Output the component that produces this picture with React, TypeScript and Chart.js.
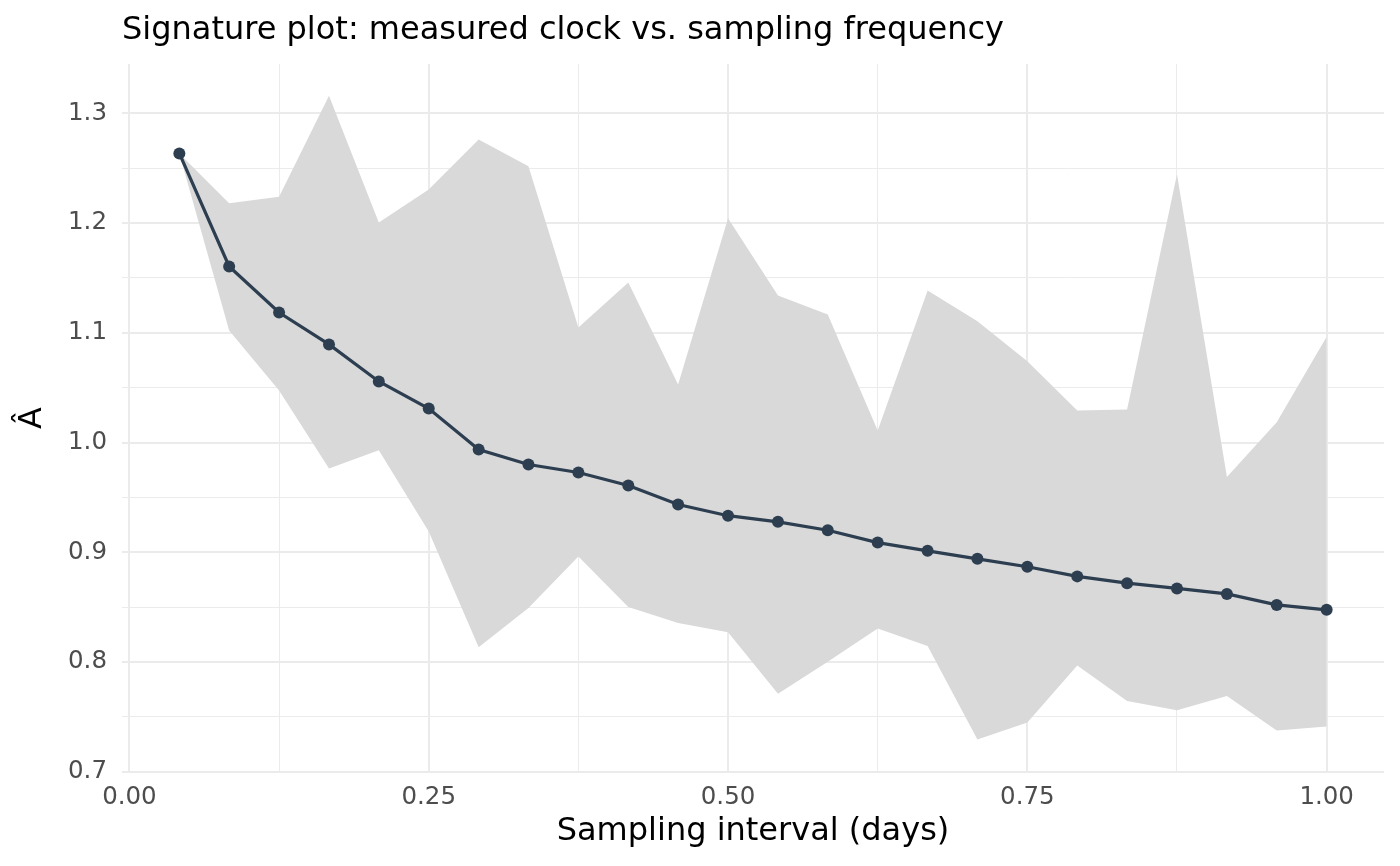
import React, { useEffect, useRef } from 'react';
import { Chart, registerables } from 'chart.js';
Chart.register(...registerables);

// sampling interval in days (1 h ... 24 h)
const intervalDays = [
    0.0417, 0.0833, 0.125, 0.1667, 0.2083, 0.25, 0.2917, 0.3333,
    0.375, 0.4167, 0.4583, 0.5, 0.5417, 0.5833, 0.625, 0.6667,
    0.7083, 0.75, 0.7917, 0.8333, 0.875, 0.9167, 0.9583, 1.0,
];
const estimate = [
    1.2635, 1.1605, 1.1185, 1.0894, 1.0556, 1.031, 0.9936, 0.98,
    0.9727, 0.9608, 0.9435, 0.9333, 0.9277, 0.92, 0.9088, 0.9013,
    0.894, 0.8868, 0.878, 0.8718, 0.867, 0.862, 0.852, 0.8475,
];
const upperBand = [
    1.2635, 1.218, 1.224, 1.316, 1.2006, 1.2307, 1.2763, 1.2517,
    1.1049, 1.1459, 1.0529, 1.2043, 1.134, 1.1167, 1.011, 1.1386,
    1.1106, 1.0741, 1.0292, 1.0301, 1.2444, 0.9686, 1.0184, 1.0965,
];
const lowerBand = [
    1.2635, 1.1021, 1.0475, 0.9763, 0.993, 0.9189, 0.8134, 0.8492,
    0.8962, 0.85, 0.8355, 0.827, 0.771, 0.8002, 0.8305, 0.8146,
    0.7294, 0.7449, 0.7968, 0.7645, 0.756, 0.769, 0.7376, 0.7412,
];

const xMajorTicks = [0, 0.25, 0.5, 0.75, 1.0];
const xMinorTicks = [0.125, 0.375, 0.625, 0.875];
const yMajorTicks = [0.7, 0.8, 0.9, 1.0, 1.1, 1.2, 1.3];
const yMinorTicks = [0.75, 0.85, 0.95, 1.05, 1.15, 1.25];

const FONT = "'DejaVu Sans', sans-serif";
const isIn = (list: number[], v: number) => list.some((t) => Math.abs(t - v) < 1e-9);

const titlePlugin = {
    id: 'plotTitle',
    afterDraw(chart: Chart) {
        const ctx = chart.ctx;
        ctx.save();
        ctx.font = `32px ${FONT}`;
        ctx.fillStyle = '#000000';
        ctx.textAlign = 'left';
        ctx.textBaseline = 'alphabetic';
        ctx.fillText('Signature plot: measured clock vs. sampling frequency', 122, 39);
        ctx.restore();
    },
};

const SignaturePlot: React.FC = () => {
    const chartRef = useRef<HTMLCanvasElement>(null);
    const chartInstance = useRef<Chart | null>(null);

    useEffect(() => {
        if (!chartRef.current) return;
        const ctx = chartRef.current.getContext('2d');
        if (!ctx) return;
        if (chartInstance.current) chartInstance.current.destroy();

        const pts = (vals: number[]) => intervalDays.map((x, i) => ({ x, y: vals[i] }));

        chartInstance.current = new Chart(ctx, {
            type: 'line',
            data: {
                datasets: [
                    {
                        label: 'estimate',
                        data: pts(estimate),
                        borderColor: '#2c3e50',
                        backgroundColor: '#2c3e50',
                        borderWidth: 3.2,
                        pointRadius: 6,
                        pointBorderWidth: 0,
                        pointBackgroundColor: '#2c3e50',
                        fill: false,
                        tension: 0,
                    },
                    {
                        label: 'upper',
                        data: pts(upperBand),
                        borderColor: 'transparent',
                        borderWidth: 0,
                        pointRadius: 0,
                        backgroundColor: '#d9d9d9',
                        fill: '+1',
                        tension: 0,
                    },
                    {
                        label: 'lower',
                        data: pts(lowerBand),
                        borderColor: 'transparent',
                        borderWidth: 0,
                        pointRadius: 0,
                        fill: false,
                        tension: 0,
                    },
                ],
            },
            options: {
                animation: false,
                responsive: false,
                events: [],
                layout: { padding: { left: 0, right: 16, top: 64, bottom: 0 } },
                plugins: {
                    legend: { display: false },
                    tooltip: { enabled: false },
                    title: { display: false },
                },
                scales: {
                    x: {
                        type: 'linear',
                        min: -0.0062,
                        max: 1.0479,
                        afterBuildTicks: (scale: any) => {
                            scale.ticks = [...xMajorTicks, ...xMinorTicks]
                                .sort((a, b) => a - b)
                                .map((value) => ({ value }));
                        },
                        afterFit: (scale: any) => { scale.height = 94; },
                        border: { display: false },
                        grid: {
                            color: '#ebebeb',
                            lineWidth: (c: any) => (isIn(xMajorTicks, c.tick.value) ? 2 : 1),
                            drawTicks: false,
                        },
                        ticks: {
                            autoSkip: false,
                            maxRotation: 0,
                            padding: 11,
                            color: '#4d4d4d',
                            font: { family: FONT, size: 24.5 },
                            callback: (v: any) => (isIn(xMajorTicks, Number(v)) ? Number(v).toFixed(2) : ''),
                        },
                        title: {
                            display: true,
                            text: 'Sampling interval (days)',
                            color: '#000000',
                            font: { family: FONT, size: 32 },
                            padding: { top: 0, bottom: 15 },
                        },
                    },
                    y: {
                        type: 'linear',
                        min: 0.6997,
                        max: 1.345,
                        afterBuildTicks: (scale: any) => {
                            scale.ticks = [...yMajorTicks, ...yMinorTicks]
                                .sort((a, b) => a - b)
                                .map((value) => ({ value }));
                        },
                        afterFit: (scale: any) => { scale.width = 122; },
                        border: { display: false },
                        grid: {
                            color: '#ebebeb',
                            lineWidth: (c: any) => (isIn(yMajorTicks, c.tick.value) ? 2 : 1),
                            drawTicks: false,
                        },
                        ticks: {
                            autoSkip: false,
                            padding: 15,
                            color: '#4d4d4d',
                            font: { family: FONT, size: 24.5 },
                            callback: (v: any) => (isIn(yMajorTicks, Number(v)) ? Number(v).toFixed(1) : ''),
                        },
                        title: {
                            display: true,
                            text: 'Â',
                            color: '#000000',
                            font: { family: FONT, size: 32 },
                            padding: { top: 13, bottom: 0 },
                        },
                    },
                },
            },
            plugins: [titlePlugin],
        });

        return () => {
            if (chartInstance.current) {
                chartInstance.current.destroy();
                chartInstance.current = null;
            }
        };
    }, []);

    return (
        <div style={{ position: 'absolute', left: 0, top: 0, width: 1400, height: 866, background: '#ffffff' }}>
            <canvas ref={chartRef} width={1400} height={866}></canvas>
        </div>
    );
};

export default function App() {
    return <SignaturePlot />;
}
